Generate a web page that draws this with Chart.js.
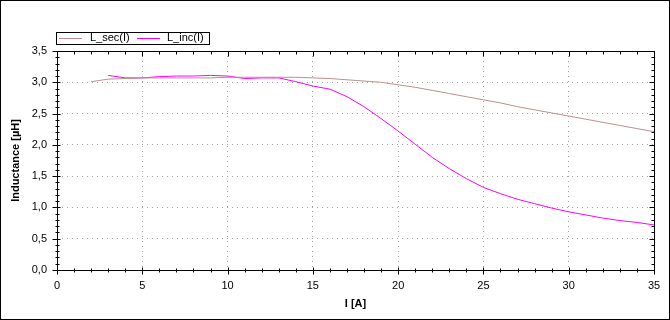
<!DOCTYPE html>
<html>
<head>
<meta charset="utf-8">
<script src="https://cdn.jsdelivr.net/npm/chart.js@4/dist/chart.umd.min.js"></script>
<style>
    html, body { margin: 0; padding: 0; background: #fff; }
    canvas { display: block; }
</style>
</head>
<body>
<canvas id="grafica" width="670" height="320"></canvas>
<script>
// Dades llegides de la gràfica
const corrent = [2, 3, 4, 5, 6, 7, 8, 9, 10, 11, 12, 13, 14, 15, 16, 17, 18, 19, 20, 21, 22, 23, 24, 25, 26, 27, 28, 29, 30, 31, 32, 33, 34, 35];
const lSec = [3.01, 3.05, 3.06, 3.07, 3.07, 3.07, 3.07, 3.07, 3.08, 3.08, 3.08, 3.08, 3.08, 3.07, 3.06, 3.04, 3.02, 3.00, 2.96, 2.92, 2.87, 2.82, 2.77, 2.72, 2.67, 2.61, 2.56, 2.51, 2.46, 2.41, 2.36, 2.31, 2.26, 2.21];

const correntInc = [3, 4, 5, 6, 7, 8, 9, 10, 11, 12, 13, 14, 15, 16, 17, 18, 19, 20, 21, 22, 23, 24, 25, 26, 27, 28, 29, 30, 31, 32, 33, 34, 35];
const lInc = [3.11, 3.07, 3.07, 3.09, 3.10, 3.10, 3.11, 3.10, 3.06, 3.07, 3.07, 3.01, 2.94, 2.89, 2.77, 2.61, 2.42, 2.22, 2.01, 1.80, 1.62, 1.46, 1.32, 1.22, 1.13, 1.06, 0.99, 0.93, 0.88, 0.83, 0.79, 0.76, 0.72];

const xTickValues = [0, 5, 10, 15, 20, 25, 30, 35];
const xTickLabels = ['0', '5', '10', '15', '20', '25', '30', '35'];
const yTickValues = [0, 0.5, 1, 1.5, 2, 2.5, 3, 3.5];
const yTickLabels = ['0,0', '0,5', '1,0', '1,5', '2,0', '2,5', '3,0', '3,5'];

const nomsSeries = ['L_sec(I)', 'L_inc(I)'];
const colorsSeries = ['#bc8f8f', '#ff00ff'];

Chart.defaults.font.family = '"Liberation Sans", Arial, sans-serif';
Chart.defaults.font.size = 11;
Chart.defaults.color = '#000';

const px = v => Math.round(v) + 0.5;

// Marc exterior, marc de l'àrea i marques dels eixos
const marc = {
    id: 'marc',
    afterDraw(chart) {
        const { ctx, chartArea: a, scales: { x, y } } = chart;
        ctx.save();
        ctx.strokeStyle = '#000';
        ctx.lineWidth = 1;
        ctx.strokeRect(0.5, 0.5, chart.width - 1, chart.height - 1);

        const l = px(a.left), r = px(a.right), t = px(a.top), b = px(a.bottom);
        ctx.beginPath();
        ctx.rect(l, t, r - l, b - t);

        // marques de l'eix X (cada 1, majors cada 5)
        for (let i = 0; i <= 35; i++) {
            const xp = px(x.getPixelForValue(i));
            const major = i % 5 === 0;
            ctx.moveTo(xp, b - (major ? 3 : 2));
            ctx.lineTo(xp, b + (major ? 4 : 2));
            ctx.moveTo(xp, t);
            ctx.lineTo(xp, t + (major ? 5 : 3));
        }
        // marques de l'eix Y (cada 0,1, majors cada 0,5)
        for (let i = 0; i <= 35; i++) {
            const yp = px(y.getPixelForValue(i / 10));
            const major = i % 5 === 0;
            ctx.moveTo(l - (major ? 5 : 2), yp);
            ctx.lineTo(l + (major ? 3 : 2), yp);
            ctx.moveTo(r, yp);
            ctx.lineTo(r - (major ? 5 : 3), yp);
        }
        ctx.stroke();

        // llegenda
        const lx = 56.5, ly = 32.5;
        ctx.fillStyle = '#fff';
        ctx.fillRect(lx, ly, 153, 12);
        ctx.strokeStyle = '#000';
        ctx.strokeRect(lx, ly, 153, 12);
        const posLinia = [59, 137];
        const posText = [90, 167];
        ctx.textBaseline = 'middle';
        ctx.font = '11px "Liberation Sans", Arial, sans-serif';
        nomsSeries.forEach((nom, i) => {
            ctx.strokeStyle = colorsSeries[i];
            ctx.beginPath();
            ctx.moveTo(posLinia[i], 38.5);
            ctx.lineTo(posLinia[i] + 23, 38.5);
            ctx.stroke();
            ctx.fillStyle = '#000';
            ctx.fillText(nom, posText[i], 38);
        });
        ctx.restore();
    }
};

new Chart(document.getElementById('grafica'), {
    type: 'line',
    data: {
        datasets: [
            {
                label: nomsSeries[0],
                data: corrent.map((c, i) => ({ x: c, y: lSec[i] })),
                borderColor: colorsSeries[0],
                borderWidth: 1,
                pointRadius: 0,
                tension: 0
            },
            {
                label: nomsSeries[1],
                data: correntInc.map((c, i) => ({ x: c, y: lInc[i] })),
                borderColor: colorsSeries[1],
                borderWidth: 1,
                pointRadius: 0,
                tension: 0
            }
        ]
    },
    options: {
        responsive: false,
        animation: false,
        layout: { padding: { left: 0, right: 16, top: 51, bottom: 0 } },
        plugins: {
            legend: { display: false },
            tooltip: { enabled: false }
        },
        scales: {
            x: {
                type: 'linear',
                min: 0,
                max: 35,
                afterBuildTicks: s => { s.ticks = xTickValues.map(v => ({ value: v })); },
                afterFit: s => { s.height = 50; },
                grid: { color: '#a0a0a0', drawTicks: false },
                border: { display: false, dash: [1, 4] },
                ticks: {
                    padding: 9,
                    maxRotation: 0,
                    callback: v => xTickLabels[xTickValues.indexOf(v)]
                },
                title: {
                    display: true,
                    text: 'I [A]',
                    font: { weight: 'bold', size: 11 },
                    padding: { top: 0, bottom: 9 }
                }
            },
            y: {
                type: 'linear',
                min: 0,
                max: 3.5,
                afterBuildTicks: s => { s.ticks = yTickValues.map(v => ({ value: v })); },
                afterFit: s => { s.width = 57; },
                grid: { color: '#a0a0a0', drawTicks: false },
                border: { display: false, dash: [1, 4] },
                ticks: {
                    padding: 10,
                    callback: v => yTickLabels[yTickValues.indexOf(v)]
                },
                title: {
                    display: true,
                    text: 'Inductance [µH]',
                    font: { weight: 'bold', size: 11 },
                    padding: { top: 9, bottom: 0 }
                }
            }
        }
    },
    plugins: [marc]
});
</script>
</body>
</html>
